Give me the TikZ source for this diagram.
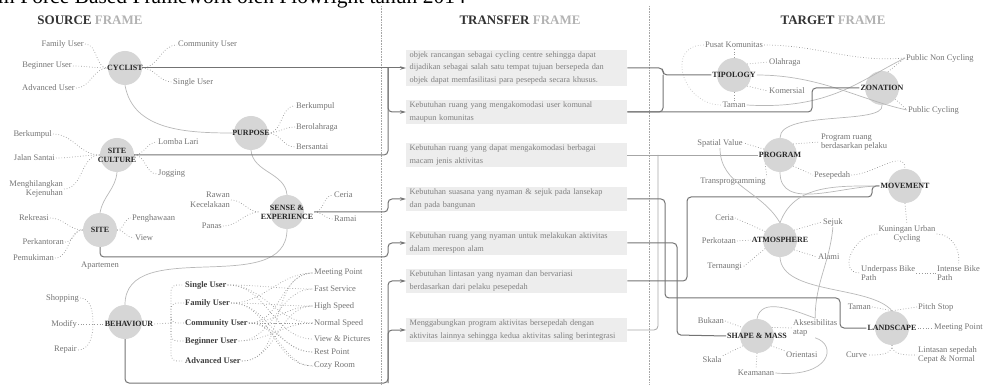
\documentclass[tikz,border=0pt]{standalone}
\usepackage{fontspec}
\setmainfont{Liberation Serif}
\usetikzlibrary{arrows.meta}
\usetikzlibrary{calc}

\tikzset{
  hub/.style={circle, fill=black!16, draw=none, minimum size=34pt, inner sep=0pt},
  hubtext/.style={font=\bfseries\fontsize{8}{9}\selectfont, text=black!85, align=center, inner sep=1pt},
  lbl/.style={font=\fontsize{8.5}{9.5}\selectfont, text=black!55, inner sep=1pt},
  usr/.style={font=\bfseries\fontsize{8.5}{9.5}\selectfont, text=black!75, inner sep=1pt},
  need/.style={fill=black!7, text=black!50, font=\fontsize{8.3}{12.5}\selectfont, align=left, text width=214pt, inner xsep=3.5pt, inner ysep=2pt, anchor=west},
  link/.style={draw=black!55, line width=1pt, rounded corners=4pt},
  link2/.style={draw=black!35, line width=0.8pt, rounded corners=4pt},
  faint/.style={draw=black!28, line width=0.7pt},
  dots/.style={draw=black!40, dotted, line width=0.7pt},
  endtip/.style={-{Stealth[length=6pt,width=3.5pt]}},
  divider/.style={draw=black!35, densely dotted, line width=0.6pt},
  framehead/.style={font=\bfseries\fontsize{13}{14}\selectfont, text=black!80}
}

\begin{document}
\begin{tikzpicture}[x=1pt,y=-1pt]
    \path[use as bounding box] (0,0) rectangle (985,387);
    \clip (0,0) rectangle (985,387);

    % caption, cut at the top
    \node [anchor=base east, font=\fontsize{21.5}{22}\selectfont, inner sep=0pt] (cap) at (466,4) {m Force Based Framework oleh Plowright tahun 2014};

    % frame titles and dividers
    \node [framehead] (srcHead) at (90,20) {SOURCE \textcolor{black!30}{FRAME}};
    \node [framehead] (trfHead) at (520,20) {TRANSFER \textcolor{black!30}{FRAME}};
    \node [framehead] (tgtHead) at (833,20) {TARGET \textcolor{black!30}{FRAME}};
    \draw [divider] (381,6) -- (381,385);
    \draw [divider] (649,6) -- (649,385);

    % ---------------- source frame ----------------
    \node [hub] (cycD) at (125,68) {};
    \node [hubtext] (cyc) at (cycD) {CYCLIST};
    \foreach \nm/\txt/\x/\y in {famU/Family User/85/44, begU/Beginner User/73/66, advU/Advanced User/76/88} {
        \node [lbl, anchor=east] (\nm) at (\x,\y) {\txt};
        \draw [dots] (\nm.east) to[out=0,in=180] (cycD.west);
    }
    \node [lbl, anchor=west] (comU) at (177,45) {Community User};
    \node [lbl, anchor=west] (sglU) at (172,82) {Single User};
    \draw [dots] (cycD.east) to[out=0,in=180] (comU.west);
    \draw [dots] (cycD.east) to[out=0,in=180] (sglU.west);

    \node [hub] (purD) at (251,133) {};
    \node [hubtext] (pur) at (purD) {PURPOSE};
    \foreach \nm/\txt/\y in {pA/Berkumpul/106, pB/Berolahraga/127, pC/Bersantai/147} {
        \node [lbl, anchor=west] (\nm) at (295,\y) {\txt};
        \draw [dots] (purD.east) to[out=0,in=180] (\nm.west);
    }

    \node [hub] (scD) at (117,155) {};
    \node [hubtext] (sc) at (scD) {SITE\\CULTURE};
    \node [lbl, anchor=east] (scA) at (53,134) {Berkumpul};
    \node [lbl, anchor=east] (scB) at (56,158) {Jalan Santai};
    \node [lbl, anchor=east, align=right] (scC) at (64,189) {Menghilangkan\\Kejenuhan};
    \node [lbl, anchor=west] (scR1) at (157,142) {Lomba Lari};
    \node [lbl, anchor=west] (scR2) at (157,174) {Jogging};
    \foreach \nm in {scA,scB,scC}
        \draw [dots] (\nm.east) to[out=0,in=180] (scD.west);
    \foreach \nm in {scR1,scR2}
        \draw [dots] (scD.east) to[out=0,in=180] (\nm.west);

    \node [hub] (siteD) at (100,230) {};
    \node [hubtext] (site) at (siteD) {SITE};
    \node [lbl, anchor=east] (stA) at (50,218) {Rekreasi};
    \node [lbl, anchor=east] (stB) at (65,242) {Perkantoran};
    \node [lbl, anchor=east] (stC) at (55,258) {Pemukiman};
    \node [lbl] (stE) at (100,266) {Apartemen};
    \node [lbl, anchor=west] (stR1) at (131,218) {Penghawaan};
    \node [lbl, anchor=west] (stR2) at (134,238) {View};
    \foreach \nm in {stA,stB,stC}
        \draw [dots] (\nm.east) to[out=0,in=180] (siteD.west);
    \foreach \nm in {stR1,stR2}
        \draw [dots] (siteD.east) to[out=0,in=180] (\nm.west);

    \node [hub] (sxD) at (287,212) {};
    \node [hubtext] (sx) at (sxD) {SENSE \&\\EXPERIENCE};
    \node [lbl, anchor=east, align=right] (sxA) at (231,200) {Rawan\\Kecelakaan};
    \node [lbl, anchor=east] (sxB) at (223,226) {Panas};
    \node [lbl, anchor=west] (sxR1) at (333,195) {Ceria};
    \node [lbl, anchor=west] (sxR2) at (333,219) {Ramai};
    \foreach \nm in {sxA,sxB}
        \draw [dots] (\nm.east) to[out=0,in=180] (sx.west);
    \foreach \nm in {sxR1,sxR2}
        \draw [dots] (sx.east) to[out=0,in=180] (\nm.west);

    \node [hub] (behD) at (125,322) {};
    \node [hubtext] (beh) at (129,324) {BEHAVIOUR};
    \node [lbl, anchor=east] (bhA) at (80,298) {Shopping};
    \node [lbl, anchor=east] (bhB) at (78,324) {Modify};
    \node [lbl, anchor=east] (bhC) at (78,350) {Repair};
    \coordinate (braceL) at (93,324);
    \draw [dots] (bhA.east) to[out=0,in=90] (braceL) to[out=-90,in=0] (bhC.east);
    \draw [dots] (bhB.east) -- (beh.west);

    % users and their wishes
    \coordinate (braceR) at (171,323);
    \draw [dots] (beh.east) -- (braceR);
    \foreach \nm/\txt/\y in {uS/Single User/285, uF/Family User/303, uC/Community User/323, uB/Beginner User/341, uA/Advanced User/361} {
        \node [usr, anchor=west] (\nm) at (184,\y) {\txt};
        \draw [dots, rounded corners=6pt] (braceR) |- (\nm.west);
    }
    \foreach \nm/\txt/\y in {tM/Meeting Point/273, tF/Fast Service/289, tH/High Speed/306, tN/Normal Speed/323, tV/View \& Pictures/339, tR/Rest Point/352, tC/Cozy Room/366}
        \node [lbl, anchor=west] (\nm) at (313,\y) {\txt};
    \foreach \u/\t in {uS/tF, uS/tN, uS/tV, uF/tM, uF/tH, uF/tR, uF/tC, uC/tM, uC/tH, uC/tN, uC/tR, uC/tC, uB/tF, uB/tN, uA/tH, uA/tM}
        \draw [dots] (\u.east) to[out=0,in=180] (\t.west);

    % links between the forces
    \draw [faint] (cycD.south) to[out=-80,in=180] (purD.west);
    \draw [faint] (purD.south) to[out=-85,in=95] (sxD.north);
    \draw [faint] (scD.south) to[out=-95,in=80] (siteD.north);
    \draw [faint] (sxD.south) to[out=-90,in=90] (behD.north);

    % ---------------- transfer frame ----------------
    \node [need] (b1) at (406,68) {objek rancangan sebagai cycling centre sehingga dapat\\dijadikan sebagai salah satu tempat tujuan bersepeda dan\\objek dapat memfasilitasi para pesepeda secara khusus.};
    \node [need] (b2) at (406,112) {Kebutuhan ruang  yang mengakomodasi user komunal\\maupun komunitas};
    \node [need] (b3) at (406,155) {Kebutuhan ruang yang dapat mengakomodasi berbagai\\macam jenis aktivitas};
    \node [need] (b4) at (406,199) {Kebutuhan suasana yang nyaman \& sejuk pada lansekap\\dan pada bangunan};
    \node [need] (b5) at (406,243) {Kebutuhan ruang yang nyaman untuk melakukan aktivitas\\dalam merespon alam};
    \node [need] (b6) at (406,281) {Kebutuhan lintasan yang nyaman dan bervariasi\\berdasarkan dari pelaku pesepedah};
    \node [need] (b7) at (406,330) {Menggabungkan program aktivitas bersepedah dengan\\aktivitas lainnya sehingga kedua aktivitas saling berintegrasi};

    \coordinate (kA) at (388,68);
    \coordinate (kB) at (388,212);
    \coordinate (kC) at (388,257);
    \coordinate (kD) at (388,383);
    \draw [link, endtip] (cycD.east) -- (b1.west);
    \draw [link] (scD.east) -| (kA);
    \draw [link, endtip] (kA) |- (b2.west);
    \draw [link, endtip] (sx.east) -- (kB) |- (b4.west);
    \draw [link, endtip] (siteD.south) |- (kC) |- (b5.west);
    \draw [link, endtip] (behD.south) |- (kD) |- (b6.west);
    \draw [link, endtip] (kD) |- (b7.west);

    % ---------------- target frame ----------------
    \node [hub] (typD) at (734,75) {};
    \node [hubtext] (typ) at (typD) {TIPOLOGY};
    \node [lbl] (tpU) at (734,45) {Pusat Komunitas};
    \node [lbl] (tpD) at (734,105) {Taman};
    \node [lbl, anchor=west] (tpO) at (768,62) {Olahraga};
    \node [lbl, anchor=west] (tpK) at (768,91) {Komersial};
    \draw [dots] (tpU.south) -- (typD.north);
    \draw [dots] (tpD.north) -- (typD.south);
    \draw [dots] (typD.40) -- (tpO.west);
    \draw [dots] (typD.-40) -- (tpK.west);
    \draw [dots, draw=black!25] (tpU.west) to[out=180,in=180,looseness=1.6] (tpD.west);

    \node [hub] (zonD) at (882,88) {};
    \node [hubtext] (zon) at (zonD) {ZONATION};
    \node [lbl, anchor=west] (zPN) at (905,58) {Public Non Cycling};
    \node [lbl, anchor=west] (zPC) at (907,110) {Public Cycling};
    \draw [dots] (zonD.70) -- (zPN.west);
    \draw [dots] (zonD.-40) -- (zPC.west);
    \draw [dots] (tpU.east) to[out=0,in=185] (zPN.west);
    \draw [faint] (tpD.east) .. controls (830,110) and (860,80) .. (zPN.west);
    \draw [faint] (typ.east) .. controls (820,75) and (860,100) .. (zPC.west);

    \coordinate (kF) at (663,75);
    \coordinate (kG) at (812,112);
    \draw [link] (b1.east) -| (kF) -- (typ.west);
    \draw [link] (b2.east) -| (kF);
    \draw [link] (b2.east) -- (kG) |- (zon.west);

    \node [hub] (progD) at (780,155) {};
    \node [hubtext] (prog) at (progD) {PROGRAM};
    \node [lbl] (pgS) at (720,143) {Spatial Value};
    \node [lbl, anchor=west, align=left] (pgR) at (820,142) {Program ruang\\berdasarkan pelaku};
    \node [lbl, anchor=west] (pgP) at (813,175) {Pesepedah};
    \node [lbl] (pgT) at (733,182) {Transprogramming};
    \draw [dots] (progD.160) -- (pgS.east);
    \draw [dots] (progD.40) -- (pgR.west);
    \draw [dots] (progD.-40) -- (pgP.west);
    \draw [dots] (progD.-150) -- (pgT.north east);
    \draw [faint] (zonD.south) .. controls (885,125) and (780,110) .. (progD.north);

    \coordinate (kH) at (658,155);
    \draw [link2] (b3.east) -- (prog.west);
    \draw [link2] (b7.east) -| (kH);

    \node [hub] (movD) at (905,186) {};
    \node [hubtext] (mov) at (movD) {MOVEMENT};
    \node [lbl, align=center] (mvK) at (907,234) {Kuningan Urban\\Cycling};
    \node [lbl, anchor=west, align=left] (mvU) at (860,273) {Underpass Bike\\Path};
    \node [lbl, anchor=west, align=left] (mvI) at (936,273) {Intense Bike\\Path};
    \draw [dots] (movD.south) -- (mvK.north);
    \draw [dots] (mvK.west) to[out=180,in=180,looseness=1.4] (mvU.west);
    \draw [dots] (mvK.east) to[out=0,in=80] (mvI.north);
    \draw [dots] (mvU.east) -- (mvI.west);
    \draw [dots] (pgP.east) to[out=0,in=90] (movD.north);
    \draw [faint] (progD.south) to[out=-90,in=180] (mov.west);

    \coordinate (kI) at (687,197);
    \coordinate (kJ) at (872,197);
    \draw [link] (b6.east) -| (kI) -- (kJ) |- (mov.west);

    \node [hub] (atmD) at (780,240) {};
    \node [hubtext] (atm) at (atmD) {ATMOSPHERE};
    \node [lbl, anchor=east] (atC) at (735,218) {Ceria};
    \node [lbl, anchor=east] (atP) at (737,241) {Perkotaan};
    \node [lbl, anchor=east] (atT) at (743,267) {Ternaungi};
    \node [lbl, anchor=west] (atS) at (822,222) {Sejuk};
    \node [lbl, anchor=west] (atA) at (817,257) {Alami};
    \draw [dots] (atmD.150) -- (atC.east);
    \draw [dots] (atP.east) -- (atm.west);
    \draw [dots] (atmD.-150) -- (atT.east);
    \draw [dots] (atmD.35) -- (atS.west);
    \draw [dots] (atmD.-35) -- (atA.west);
    \draw [faint] (pgS.south) to[out=-90,in=120] (atmD.north);
    \draw [faint] (atmD.north) to[out=70,in=180] (mov.west);

    \node [hub] (smD) at (757,336) {};
    \node [hubtext] (sm) at (smD) {SHAPE \& MASS};
    \node [lbl, anchor=east] (smB) at (725,321) {Bukaan};
    \node [lbl, anchor=west, align=left] (smA) at (792,328) {Aksesibilitas\\atap};
    \node [lbl, anchor=west] (smO) at (785,355) {Orientasi};
    \node [lbl] (smK) at (756,373) {Keamanan};
    \node [lbl] (smS) at (712,360) {Skala};
    \draw [dots] (smB.east) -- (smD.150);
    \draw [dots] (smD.30) -- (smA.west);
    \draw [dots] (smD.-35) -- (smO.north west);
    \draw [dots] (smD.south) -- (smK.north);
    \draw [dots] (smD.-145) -- (smS.north east);
    \draw [faint] (atS.south) to[out=-95,in=90] (smA.north);
    \draw [faint] (smD.north) to[out=80,in=160] (smA.north);
    \draw [faint] (smK.east) .. controls (830,378) and (838,345) .. (smA.south);

    \coordinate (kK) at (677,335);
    \draw [link] (b5.east) -| (kK) -- (sm.west);

    \node [hub] (landD) at (892,328) {};
    \node [hubtext] (land) at (landD) {LANDSCAPE};
    \node [lbl, anchor=east] (lsT) at (872,307) {Taman};
    \node [lbl, anchor=west] (lsP) at (917,307) {Pitch Stop};
    \node [lbl, anchor=west] (lsM) at (933,328) {Meeting Point};
    \node [lbl, anchor=east] (lsC) at (868,355) {Curve};
    \node [lbl, anchor=west, align=left] (lsL) at (917,355) {Lintasan sepedah\\Cepat \& Normal};
    \draw [dots] (lsT.east) -- (landD.north);
    \draw [dots] (lsP.west) -- (landD.north);
    \draw [dots] (land.east) -- (lsM.west);
    \draw [dots] (landD.south) to[out=-90,in=0] (lsC.east);
    \draw [dots] (landD.south) to[out=-90,in=180] (lsL.west);
    \draw [faint] (atmD.south) .. controls (782,295) and (870,285) .. (landD.north);

    \coordinate (kL) at (665,298);
    \coordinate (kM) at (840,298);
    \draw [link] (b4.east) -| (kL) -- (kM) |- (land.west);
\end{tikzpicture}
\end{document}
